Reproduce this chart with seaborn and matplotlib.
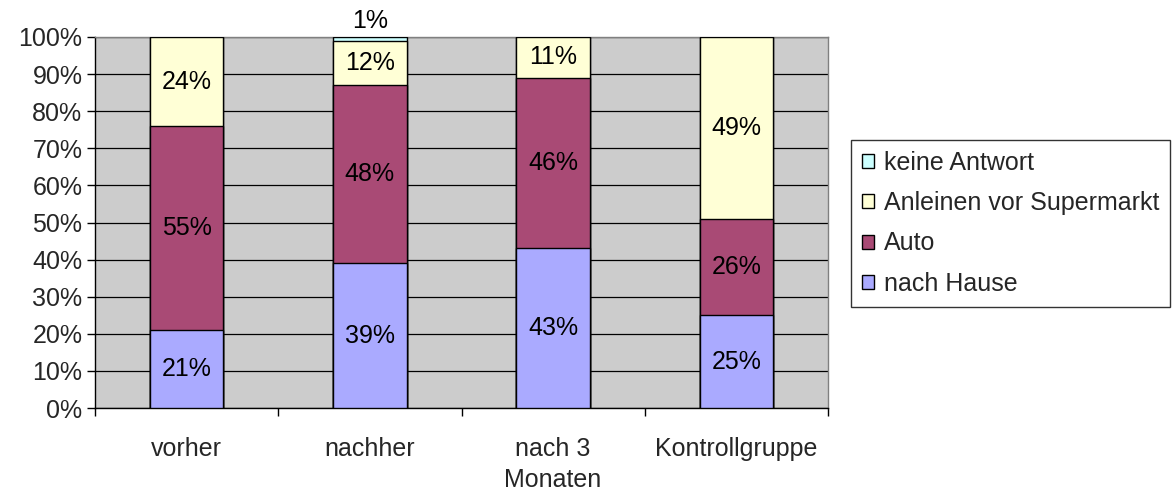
import matplotlib
matplotlib.use("Agg")
import matplotlib.pyplot as plt
import seaborn as sns
import pandas as pd
import numpy as np
from matplotlib.patches import Patch

# Data: answer shares (%) per survey group
groups = ["vorher", "nachher", "nach 3\nMonaten", "Kontrollgruppe"]
nach_hause = [21, 39, 43, 25]
auto = [55, 48, 46, 26]
anleinen = [24, 12, 11, 49]
keine_antwort = [0, 1, 0, 0]

series_names = ["nach Hause", "Auto", "Anleinen vor Supermarkt", "keine Antwort"]
series_values = [nach_hause, auto, anleinen, keine_antwort]
colors = ["#AAAAFF", "#A94A75", "#FFFFD6", "#CCFFFF"]

FS = 18

sns.set_theme(style="white")
plt.rcParams["font.family"] = ["Liberation Sans", "DejaVu Sans"]

fig = plt.figure(figsize=(11.74, 4.91), dpi=100)
ax = fig.add_axes([95 / 1174, 83 / 491, 733 / 1174, 371 / 491])
ax.set_facecolor("#CCCCCC")

# cumulative heights, drawn from the top layer down so lower segments overlay
cum = np.cumsum(np.array(series_values), axis=0)
for i in range(len(series_names) - 1, -1, -1):
    df = pd.DataFrame({"group": groups, "value": cum[i] / 100.0})
    sns.barplot(data=df, x="group", y="value", order=groups, color=colors[i],
                width=0.4, edgecolor="black", linewidth=1.0, saturation=1,
                ax=ax, zorder=3)

# segment labels
for i, vals in enumerate(series_values):
    bottoms = cum[i] - np.array(vals)
    for j, v in enumerate(vals):
        if v <= 0:
            continue
        if v < 3:
            ax.text(j, (bottoms[j] + v) / 100.0 + 0.012, f"{v}%", ha="center",
                    va="bottom", fontsize=FS, color="black", zorder=5)
        else:
            ax.text(j, (bottoms[j] + v / 2) / 100.0, f"{v}%", ha="center",
                    va="center", fontsize=FS, color="black", zorder=5)

ax.set_ylim(0, 1)
ax.set_xlim(-0.5, len(groups) - 0.5)
ax.set_yticks(np.linspace(0, 1, 11))
ax.set_yticklabels([f"{int(round(t * 100))}%" for t in np.linspace(0, 1, 11)])
ax.yaxis.grid(True, color="black", linewidth=0.9, zorder=1)
ax.set_axisbelow(True)

ax.set_xticks(range(len(groups)))
ax.set_xticklabels(groups)
ax.set_xticks(np.arange(-0.5, len(groups)), minor=True)
ax.tick_params(axis="x", which="major", length=0, pad=21, labelsize=FS)
ax.tick_params(axis="x", which="minor", length=6, width=1, color="black",
               direction="out", bottom=True)
ax.tick_params(axis="y", which="major", length=6, width=1, color="black",
               direction="out", left=True, labelsize=FS, pad=3)
ax.set_xlabel("")
ax.set_ylabel("")
for t in ax.get_xticklabels():
    t.set_linespacing(1.35)
    t.set_verticalalignment("top")

for side in ["top", "right"]:
    ax.spines[side].set_color("#808080")
    ax.spines[side].set_linewidth(1.0)
for side in ["left", "bottom"]:
    ax.spines[side].set_color("black")
    ax.spines[side].set_linewidth(1.0)

handles = [Patch(facecolor=colors[i], edgecolor="black", linewidth=1.0,
                 label=series_names[i]) for i in range(len(series_names) - 1, -1, -1)]
leg = fig.legend(handles=handles, loc="upper left",
                 bbox_to_anchor=(851 / 1174, 1 - 140 / 491),
                 frameon=True, fancybox=False, fontsize=FS,
                 handlelength=0.5, handleheight=0.5, handletextpad=0.4,
                 labelspacing=0.66, borderpad=0.42, borderaxespad=0)
leg.get_frame().set_edgecolor("black")
leg.get_frame().set_linewidth(1.0)

fig.savefig("out.png", dpi=100, facecolor="white")
